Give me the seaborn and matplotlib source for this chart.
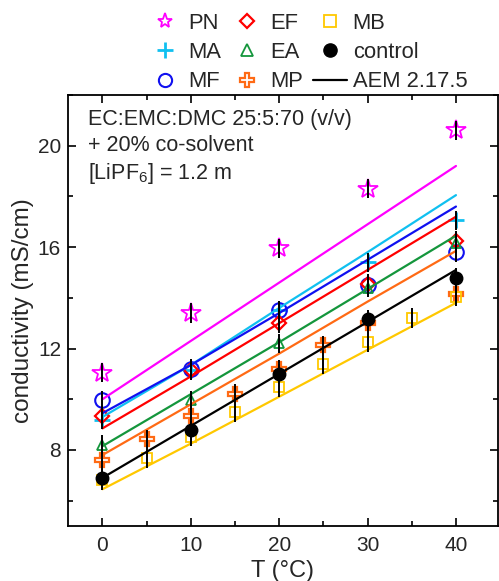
import numpy as np
import pandas as pd
import matplotlib
matplotlib.use("Agg")
import matplotlib.pyplot as plt
import seaborn as sns
from matplotlib.lines import Line2D
from matplotlib.ticker import MultipleLocator

# ---------------- data ----------------
T5 = [0, 10, 20, 30, 40]
PN = [11.05, 13.4, 15.95, 18.3, 20.6]
MA = [9.2, 11.15, 13.5, 15.4, 17.05]
MF = [9.95, 11.2, 13.5, 14.5, 15.8]
EF = [9.35, 11.15, 13.0, 14.55, 16.25]
EA = [8.2, 9.95, 12.2, 14.4, 16.15]
T_MP = [0, 5, 10, 15, 20, 25, 30, 40]
MP = [7.6, 8.42, 9.35, 10.22, 11.18, 12.13, 13.0, 14.15]
T_MB = [0, 5, 10, 15, 20, 25, 30, 35, 40]
MB = [6.8, 7.67, 8.52, 9.5, 10.48, 11.38, 12.25, 13.2, 14.05]
CONTROL = [6.88, 8.78, 11.0, 13.15, 14.78]
ERR = 0.38

# AEM 2.17.5 model lines
T_model = [0, 10, 20, 30, 40]
AEM_PN = [10.0, 12.3, 14.6, 16.9, 19.2]
AEM_MA = [9.3, 11.35, 13.6, 15.8, 18.05]
AEM_MF = [9.45, 11.35, 13.4, 15.5, 17.6]
AEM_EF = [8.85, 10.9, 13.0, 15.1, 17.2]
AEM_EA = [8.15, 10.2, 12.25, 14.35, 16.45]
AEM_MP = [7.8, 9.8, 11.8, 13.85, 15.85]
AEM_CONTROL = [6.9, 8.95, 11.0, 13.05, 15.1]
AEM_MB = [6.45, 8.25, 10.1, 11.95, 13.8]

# ---------------- style ----------------
sns.set_style("ticks")
plt.rcParams['font.family'] = ['Liberation Sans', 'DejaVu Sans']
plt.rcParams['mathtext.fontset'] = 'custom'
plt.rcParams['mathtext.rm'] = 'Liberation Sans'
plt.rcParams['xtick.direction'] = 'in'
plt.rcParams['ytick.direction'] = 'in'

C_PN = '#FF00FF'
C_MA = '#10C0F0'
C_MF = '#1010F0'
C_EF = '#FF0000'
C_EA = '#14963C'
C_MP = '#FF6A14'
C_MB = '#FFC800'
C_CT = '#000000'

# name, T, values, model, colour, marker, size, edge width, face, legend size
series = [
    ("PN", T5, PN, AEM_PN, C_PN, '*', 15, 1.3, 'none', 11),
    ("MA", T5, MA, AEM_MA, C_MA, '+', 11.5, 2.0, C_MA, 11),
    ("MF", T5, MF, AEM_MF, C_MF, 'o', 10.5, 1.5, 'none', 9.5),
    ("EF", T5, EF, AEM_EF, C_EF, 'D', 7.5, 1.6, 'none', 7),
    ("EA", T5, EA, AEM_EA, C_EA, '^', 7, 1.3, 'none', 8),
    ("MP", T_MP, MP, AEM_MP, C_MP, 'P', 10.5, 1.6, 'none', 10),
    ("MB", T_MB, MB, AEM_MB, C_MB, 's', 7.5, 1.3, 'none', 9),
    ("control", T5, CONTROL, AEM_CONTROL, C_CT, 'o', 9, 1.0, C_CT, 9.5),
]

fig = plt.figure(figsize=(4.99, 5.81), dpi=100)
ax = fig.add_axes([0.1363, 0.0947, 0.8607, 0.7418])

for name, tx, vals, model, col, mk, ms, mew, fc, lms in series:
    df = pd.DataFrame({"T": tx, "k": vals})
    ax.plot(df["T"], df["k"], linestyle='none', marker=mk, markersize=ms,
            markeredgecolor=col, markerfacecolor=fc, markeredgewidth=mew, zorder=3)

for name, tx, vals, model, col, mk, ms, mew, fc, lms in series:
    dm = pd.DataFrame({"T": T_model, "k": model})
    sns.lineplot(data=dm, x="T", y="k", color=col, linewidth=1.6, ax=ax,
                 zorder=4, legend=False)

for name, tx, vals, model, col, mk, ms, mew, fc, lms in series:
    ax.errorbar(tx, vals, yerr=ERR, fmt='none', ecolor='black',
                elinewidth=1.4, capsize=0, zorder=5)

ax.set_xlim(-3.9, 44.7)
ax.set_ylim(5, 22)
ax.xaxis.set_major_locator(MultipleLocator(10))
ax.xaxis.set_minor_locator(MultipleLocator(5))
ax.yaxis.set_major_locator(MultipleLocator(4))
ax.yaxis.set_minor_locator(MultipleLocator(2))
ax.tick_params(which='both', direction='in', top=True, right=True,
               labelsize=15, width=1.2, color='black')
ax.tick_params(which='major', length=6)
ax.tick_params(which='minor', length=3.5)
ax.tick_params(axis='x', which='major', pad=7)
ax.tick_params(axis='y', which='major', pad=5)
for sp in ax.spines.values():
    sp.set_linewidth(1.3)
    sp.set_color('black')

ax.set_xlabel("T (°C)", fontsize=17, labelpad=4)
ax.set_ylabel("conductivity (mS/cm)", fontsize=17.5, labelpad=3)

ax.text(0.047, 0.967,
        "EC:EMC:DMC 25:5:70 (v/v)\n+ 20% co-solvent\n[LiPF$_6$] = 1.2 m",
        transform=ax.transAxes, ha='left', va='top', fontsize=15.5,
        linespacing=1.3)

handles = []
for name, tx, vals, model, col, mk, ms, mew, fc, lms in series:
    handles.append(Line2D([], [], linestyle='none', marker=mk,
                          markersize=lms, markeredgecolor=col,
                          markerfacecolor=fc, markeredgewidth=mew, label=name))
handles.append(Line2D([], [], color='black', linewidth=1.6, label='AEM 2.17.5'))

fig.legend(handles=handles, ncol=3, loc='upper left',
           bbox_to_anchor=(0.2966, 0.978), frameon=False, fontsize=15.8,
           handlelength=1.55, handletextpad=0.28, columnspacing=0.42,
           labelspacing=0.38, borderaxespad=0.0, borderpad=0.0)

fig.savefig("out.png", dpi=100)
